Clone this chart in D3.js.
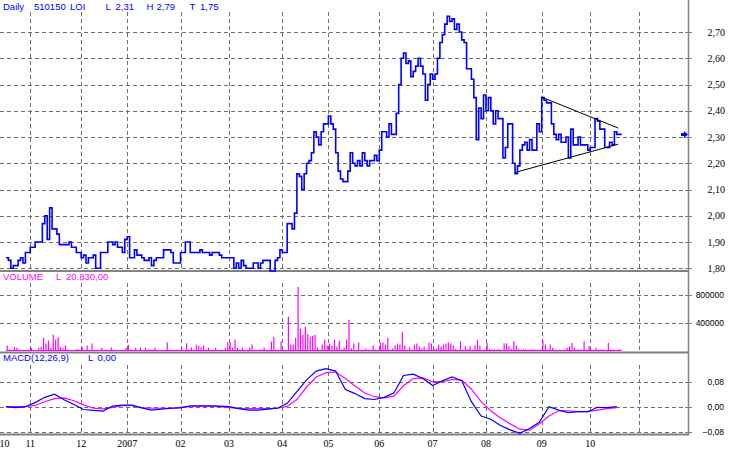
<!DOCTYPE html>
<html><head><meta charset="utf-8">
<script src="https://cdn.jsdelivr.net/npm/d3@7/dist/d3.min.js"></script>
<style>body{margin:0;background:#fff}svg{display:block}</style>
</head><body><svg id="c" width="729" height="451"></svg>
<script>
// ---- data (daily bars, Oct 2006 - Oct 2007) ----
const prices = [1.84,1.83,1.80,1.81,1.81,1.83,1.84,1.82,1.86,1.86,
 1.88,1.88,1.90,1.90,1.90,1.97,2.00,1.91,2.03,1.95,
 1.95,1.93,1.89,1.89,1.89,1.89,1.90,1.88,1.88,1.86,
 1.86,1.84,1.85,1.82,1.84,1.84,1.85,1.80,1.80,1.86,
 1.86,1.86,1.90,1.90,1.89,1.90,1.88,1.88,1.86,1.91,
 1.92,1.84,1.84,1.87,1.85,1.85,1.84,1.83,1.83,1.84,
 1.81,1.83,1.84,1.84,1.84,1.87,1.87,1.87,1.86,1.82,
 1.82,1.82,1.86,1.86,1.90,1.90,1.86,1.86,1.86,1.86,
 1.87,1.86,1.86,1.86,1.85,1.86,1.86,1.86,1.85,1.84,
 1.84,1.84,1.84,1.84,1.80,1.82,1.80,1.83,1.81,1.80,
 1.80,1.80,1.82,1.82,1.80,1.82,1.83,1.83,1.83,1.79,
 1.79,1.83,1.84,1.87,1.86,1.86,1.97,1.97,1.95,2.01,
 2.16,2.15,2.10,2.16,2.20,2.21,2.24,2.32,2.30,2.27,
 2.32,2.35,2.35,2.38,2.35,2.33,2.24,2.17,2.14,2.13,
 2.13,2.17,2.24,2.20,2.19,2.21,2.19,2.24,2.21,2.19,
 2.21,2.21,2.23,2.21,2.25,2.32,2.32,2.30,2.35,2.31,
 2.31,2.39,2.50,2.60,2.62,2.58,2.59,2.53,2.55,2.57,
 2.60,2.57,2.54,2.44,2.50,2.54,2.52,2.54,2.60,2.66,
 2.69,2.73,2.76,2.74,2.75,2.71,2.73,2.70,2.67,2.66,
 2.56,2.56,2.52,2.45,2.29,2.41,2.37,2.46,2.40,2.45,
 2.40,2.35,2.40,2.37,2.37,2.22,2.26,2.35,2.35,2.20,
 2.16,2.19,2.25,2.27,2.28,2.25,2.29,2.25,2.25,2.35,
 2.32,2.45,2.44,2.43,2.43,2.35,2.31,2.29,2.31,2.28,
 2.28,2.30,2.22,2.33,2.27,2.27,2.30,2.27,2.27,2.27,
 2.25,2.26,2.26,2.37,2.36,2.33,2.33,2.26,2.26,2.28,
 2.27,2.32,2.31,2.31];

const volumes = [78000,20000,15000,59000,45000,20000,10000,15000,10000,20000,
 45000,15000,10000,45000,59000,191000,106000,150000,45000,233000,
 163000,195000,59000,45000,78000,20000,10000,10000,20000,30000,
 20000,50000,15000,78000,10000,106000,10000,15000,15000,45000,
 10000,20000,10000,50000,20000,10000,15000,10000,15000,45000,
 90000,20000,10000,45000,10000,50000,10000,45000,20000,20000,
 20000,45000,10000,15000,10000,15000,124000,10000,15000,10000,
 20000,15000,50000,15000,110000,20000,50000,20000,90000,78000,
 50000,78000,20000,45000,10000,20000,45000,10000,15000,15000,
 45000,124000,124000,45000,163000,45000,20000,45000,15000,20000,
 45000,92000,15000,15000,20000,20000,50000,20000,15000,134000,
 205000,20000,15000,134000,15000,15000,488000,92000,92000,191000,
 916000,318000,233000,346000,247000,205000,219000,233000,50000,20000,
 92000,163000,78000,106000,78000,163000,64000,148000,20000,50000,
 163000,445000,35000,106000,15000,120000,15000,20000,35000,20000,
 15000,78000,20000,15000,120000,120000,92000,191000,20000,35000,
 78000,106000,92000,275000,78000,20000,50000,20000,92000,106000,
 64000,35000,64000,20000,120000,106000,35000,35000,92000,64000,
 92000,106000,120000,109000,78000,30000,15000,140000,21000,68000,
 30000,68000,21000,78000,162000,78000,15000,21000,116000,30000,
 21000,21000,21000,30000,15000,109000,109000,68000,30000,140000,
 78000,30000,21000,30000,21000,21000,21000,21000,21000,21000,
 21000,150000,92000,21000,92000,45000,21000,15000,21000,15000,
 21000,45000,68000,116000,45000,21000,21000,21000,140000,21000,
 68000,21000,21000,45000,21000,21000,21000,15000,116000,21000,
 21000,15000,21000,20830];

// MACD(12,26,9) read every 4th bar (bar 0, 4, 8, ... 252)
const macdSampleEvery = 4;
const macdValues = [0.000,-0.003,0.000,0.013,0.030,0.040,0.022,0.007,-0.009,-0.012,
 -0.014,0.002,0.005,0.005,-0.004,-0.011,-0.008,-0.005,-0.004,0.003,
 0.003,0.003,0.002,0.000,-0.006,-0.011,-0.011,-0.008,-0.005,0.011,
 0.048,0.086,0.114,0.122,0.114,0.055,0.042,0.026,0.023,0.030,
 0.044,0.100,0.104,0.090,0.068,0.083,0.095,0.083,0.016,-0.030,
 -0.040,-0.060,-0.074,-0.085,-0.070,-0.050,0.000,-0.011,-0.019,-0.016,
 -0.016,-0.002,-0.003,0.000];
const signalValues = [0.000,0.000,0.000,0.004,0.016,0.026,0.028,0.019,0.006,-0.005,
 -0.007,-0.002,0.003,0.003,-0.003,-0.005,-0.005,-0.005,-0.002,0.000,
 0.001,0.002,0.000,-0.003,-0.005,-0.006,-0.006,-0.006,-0.005,0.001,
 0.023,0.063,0.095,0.109,0.111,0.090,0.066,0.044,0.032,0.028,
 0.034,0.067,0.090,0.092,0.080,0.080,0.087,0.085,0.056,0.016,
 -0.013,-0.036,-0.055,-0.072,-0.075,-0.055,-0.030,-0.013,-0.013,-0.016,
 -0.016,-0.011,-0.006,-0.003];

// triangle trend lines [barIndex, price]
const upperTrend = [[221, 2.452], [252.6, 2.334]];
const lowerTrend = [[210, 2.165], [252.6, 2.273]];

// month boundaries (bar index) and labels
const monthIdx    = [-11, 10, 31, 50, 72, 92, 114, 133, 154, 176, 198, 221, 241, 261];
const monthLabels = ['10','11','12','2007','02','03','04','05','06','07','08','09','10',''];

const priceTicks  = [1.8,1.9,2.0,2.1,2.2,2.3,2.4,2.5,2.6,2.7];
const volumeTicks = [400000, 800000];
const macdTicks   = [-0.08, 0, 0.08];

// ---- drawing ----
const svg = d3.select('#c');
const AX = 688;
const GRID = '#6e6e6e', AXC = '#808080';
const x  = d3.scaleLinear().domain([0, 261]).range([6, 6 + 2.424 * 261]);
const yP = d3.scaleLinear().domain([1.8, 2.7]).range([268.3, 32]);
const yV = d3.scaleLinear().domain([0, 800000]).range([351, 295]);
const yM = d3.scaleLinear().domain([-0.08, 0.08]).range([431.7, 381.7]);
const c = v => Math.round(v) + 0.5;
const fmt2 = d3.format('.2f');
const comma = s => s.replace('.', ',');

svg.append('rect').attr('width',729).attr('height',451).attr('fill','#fff');

const g = svg.append('g');
// vertical month grid per panel
const panels = [[12, 268], [283, 350], [365, 432]];
const gridIdx = monthIdx.filter(i => x(i) > 0 && x(i) < AX);
panels.forEach(([a, b]) => {
  g.selectAll(null).data(gridIdx).enter().append('line')
    .attr('x1', d => c(x(d))).attr('x2', d => c(x(d)))
    .attr('y1', a).attr('y2', b)
    .attr('stroke', GRID).attr('stroke-dasharray', '4,3').attr('shape-rendering','crispEdges');
});
// horizontal grids
function hgrid(ticks, scale) {
  g.selectAll(null).data(ticks).enter().append('line')
    .attr('x1', 0).attr('x2', AX - 4)
    .attr('y1', d => c(scale(d))).attr('y2', d => c(scale(d)))
    .attr('stroke', GRID).attr('stroke-dasharray', '4,3').attr('shape-rendering','crispEdges');
  g.selectAll(null).data(ticks).enter().append('line')
    .attr('x1', AX - 3).attr('x2', AX + 4)
    .attr('y1', d => c(scale(d))).attr('y2', d => c(scale(d)))
    .attr('stroke', AXC).attr('shape-rendering','crispEdges');
}
hgrid(priceTicks, yP); hgrid(volumeTicks, yV); hgrid(macdTicks, yM);

// panel frames
[[271, 2], [352.5, 2], [434.5, 2]].forEach(([yy, w]) => {
  svg.append('line').attr('x1', 0).attr('x2', AX).attr('y1', yy).attr('y2', yy)
    .attr('stroke', AXC).attr('stroke-width', w);
});
svg.append('line').attr('x1', AX + 0.5).attr('x2', AX + 0.5).attr('y1', 0).attr('y2', 435.5)
  .attr('stroke', AXC).attr('stroke-width', 1.5);

// right axis labels
const lab = svg.append('g');
lab.selectAll(null).data(priceTicks).enter().append('text')
  .attr('x', 725).attr('y', d => yP(d) + 3.5).attr('text-anchor', 'end')
  .attr('font-family', "'Liberation Serif', 'Times New Roman', serif").attr('font-size', 10)
  .text(d => comma(fmt2(d)));
lab.selectAll(null).data(volumeTicks).enter().append('text')
  .attr('x', 724).attr('y', d => yV(d) + 3).attr('text-anchor', 'end')
  .attr('font-family', "'Liberation Sans', Arial, sans-serif").attr('font-size', 8.5)
  .text(d => String(d));
lab.selectAll(null).data(macdTicks).enter().append('text')
  .attr('x', 724).attr('y', d => yM(d) + 3).attr('text-anchor', 'end')
  .attr('font-family', "'Liberation Sans', Arial, sans-serif").attr('font-size', 8.5)
  .text(d => comma(fmt2(d)));

// x labels
svg.append('g').selectAll(null).data(monthIdx.map((d, i) => [d, monthLabels[i]])).enter().append('text')
  .attr('x', d => Math.max(x(d[0]), 4.5)).attr('y', 447).attr('text-anchor', 'middle')
  .attr('font-family', "'Liberation Serif', 'Times New Roman', serif").attr('font-size', 10)
  .text(d => d[1]);

// price step line
const pts = prices.map((p, i) => [i, p]);
pts.push([prices.length, prices[prices.length - 1]]);
svg.append('path').datum(pts)
  .attr('d', d3.line().x(d => x(d[0])).y(d => yP(d[1])).curve(d3.curveStepAfter))
  .attr('fill', 'none').attr('stroke', '#0000ff').attr('stroke-width', 1.6);

// trend lines
[upperTrend, lowerTrend].forEach(t => {
  svg.append('path').datum(t)
    .attr('d', d3.line().x(d => x(d[0])).y(d => yP(d[1])))
    .attr('stroke', '#000').attr('stroke-width', 1).attr('fill', 'none');
});

// last price marker
const ly = yP(prices[prices.length - 1]);
svg.append('path').attr('d', `M${AX-7},${ly-1.5}h3v-2l4,3.5l-4,3.5v-2h-3z`).attr('fill', '#0000ff');

// volume
svg.append('line').attr('x1', x(0)).attr('x2', x(prices.length)).attr('y1', yV(0) - 0.5).attr('y2', yV(0) - 0.5)
  .attr('stroke', '#ff00ff').attr('stroke-width', 1.2);
svg.append('g').selectAll(null).data(volumes).enter().append('line')
  .attr('x1', (d, i) => x(i) + 1.2).attr('x2', (d, i) => x(i) + 1.2)
  .attr('y1', yV(0)).attr('y2', d => yV(d))
  .attr('stroke', '#ff00ff').attr('stroke-width', 1.2);

// MACD
const lineM = d3.line().x((d, i) => x(i * macdSampleEvery)).y(d => yM(d));
svg.append('path').datum(signalValues).attr('d', lineM)
  .attr('fill', 'none').attr('stroke', '#ff00ff').attr('stroke-width', 1.2);
svg.append('path').datum(macdValues).attr('d', lineM)
  .attr('fill', 'none').attr('stroke', '#0000ff').attr('stroke-width', 1.2);

// titles
const sans = "'Liberation Sans', Arial, sans-serif";
function txt(xx, yy, s, col) {
  svg.append('text').attr('x', xx).attr('y', yy).attr('fill', col)
    .attr('font-family', sans).attr('font-size', 9.5).text(s);
}
[[3,'Daily'],[34,'510150'],[70,'LOI'],[105.5,'L'],[115.5,'2,31'],[146.5,'H'],[156.5,'2,79'],[189.5,'T'],[200,'1,75']]
  .forEach(([xx, s]) => txt(xx, 10, s, '#0000ff'));
[[3,'VOLUME'],[56,'L'],[66,'20.830,00']].forEach(([xx, s]) => txt(xx, 280, s, '#ff00ff'));
[[3,'MACD(12,26,9)'],[88,'L'],[97.5,'0,00']].forEach(([xx, s]) => txt(xx, 361, s, '#0000ff'));
</script></body></html>
